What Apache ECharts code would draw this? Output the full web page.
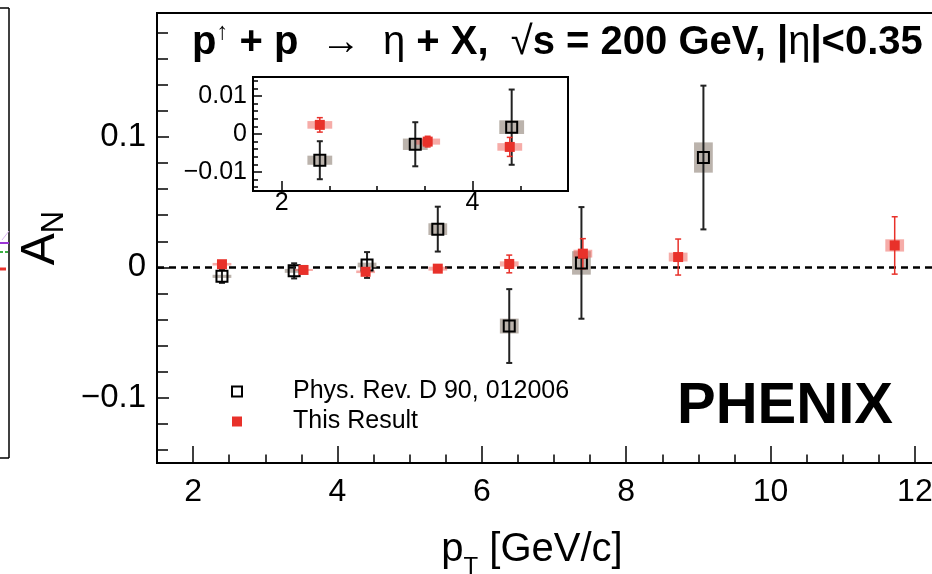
<!DOCTYPE html>
<html>
<head>
<meta charset="utf-8">
<script src="https://cdn.jsdelivr.net/npm/echarts@6/dist/echarts.min.js"></script>
<style>html,body{margin:0;padding:0;background:#fff;}#c{width:932px;height:574px;}</style>
</head>
<body>
<div id="c"></div>
<script>
// ---- data ----
const ptPrev   = [2.40, 3.40, 4.41, 5.39, 6.38, 7.38, 9.07];
const anPrev   = [-0.0069, -0.0027, 0.0018, 0.0293, -0.0450, 0.0034, 0.0842];
const statPrev = [0.0050, 0.0058, 0.0099, 0.0172, 0.0283, 0.0428, 0.0551];
const sysPrev  = [0.0012, 0.0015, 0.0018, 0.0045, 0.0057, 0.0090, 0.0116];

const ptNew   = [2.40, 3.53, 4.39, 5.39, 6.38, 7.40, 8.72, 11.72];
const anNew   = [0.0024, -0.0020, -0.0034, -0.0010, 0.0026, 0.0105, 0.0079, 0.0168];
const statNew = [0.0019, 0.0014, 0.0025, 0.0020, 0.0068, 0.0115, 0.0138, 0.0220];
const sysNew  = [0.0010, 0.0008, 0.0010, 0.0015, 0.0020, 0.0030, 0.0034, 0.0047];

const seriesNames = ['Phys. Rev. D 90, 012006', 'This Result'];

const xMajorTicks = [2, 4, 6, 8, 10, 12];
const yMajorTicks = [-0.1, 0, 0.1];
const insetXTicks = [2, 4];
const insetYTicks = [-0.01, 0, 0.01];

// ---- helpers ----
const FONT = "'Liberation Sans', Arial, Helvetica, sans-serif";
const RED = '#e8312a';
const RED_SYS = 'rgba(238,90,82,0.5)';
const GREY_SYS = '#bbb3ac';

const mainX = {min: 1.5, max: 12.5};
const mainY = {min: -0.15, max: 0.195};
const insX = {min: 1.7, max: 5.0};
const insY = {min: -0.015, max: 0.015};

function range(a, b, step, dec) { const r = []; for (let v = a; v <= b + step / 2; v += step) r.push(+v.toFixed(dec)); return r; }
const xMinorTicks = range(1.5, 12.5, 0.5, 2);
const yMinorTicks = range(-0.14, 0.18, 0.02, 3);
const insXMinor = range(2, 5, 0.5, 2);
const insYMinor = range(-0.014, 0.014, 0.002, 4);

function fmtNum(v) { if (Math.abs(v) < 1e-12) return '0'; const s = String(+v.toPrecision(6)); return s.replace('-', '\u2212'); }

function zip(xs, ys, es) { return xs.map((x, i) => [x, ys[i], es[i]]); }
const prevPts = zip(ptPrev, anPrev, statPrev);
const prevSys = zip(ptPrev, anPrev, sysPrev);
const newPts = zip(ptNew, anNew, statNew);
const newSys = zip(ptNew, anNew, sysNew);
const inIns = d => d[0] > insX.min && d[0] < insX.max;

function errRender(color, lw, cap) {
  return function (params, api) {
    const x = api.value(0), y = api.value(1), e = api.value(2);
    const t = api.coord([x, y + e]), b = api.coord([x, y - e]);
    const st = {stroke: color, lineWidth: lw};
    return {type: 'group', children: [
      {type: 'line', shape: {x1: t[0], y1: t[1], x2: b[0], y2: b[1]}, style: st},
      {type: 'line', shape: {x1: t[0] - cap, y1: t[1], x2: t[0] + cap, y2: t[1]}, style: st},
      {type: 'line', shape: {x1: b[0] - cap, y1: b[1], x2: b[0] + cap, y2: b[1]}, style: st}
    ]};
  };
}
function boxRender(color, hw) {
  return function (params, api) {
    const x = api.value(0), y = api.value(1), s = api.value(2);
    const p1 = api.coord([x - hw, y + s]), p2 = api.coord([x + hw, y - s]);
    return {type: 'rect', shape: {x: p1[0], y: p1[1], width: p2[0] - p1[0], height: Math.max(p2[1] - p1[1], 1)}, style: {fill: color}};
  };
}

function valAxis(grid, rng, ticks, len, showLabel, labelSize, margin, extra) {
  return Object.assign({
    type: 'value', gridIndex: grid, min: rng.min, max: rng.max,
    axisLine: {show: showLabel, onZero: false, lineStyle: {color: '#000', width: 2}},
    axisTick: {show: true, inside: true, length: len, customValues: ticks, lineStyle: {color: '#000', width: 1.5}},
    axisLabel: showLabel ? {show: true, customValues: ticks, formatter: fmtNum, fontSize: labelSize, color: '#000', fontFamily: FONT, margin: margin} : {show: false},
    splitLine: {show: false}
  }, extra || {});
}

function buildSeries(xi, yi, filter, big) {
  const f = filter ? (a => a.filter(inIns)) : (a => a);
  return [
    {type: 'custom', name: 'sysPrev', xAxisIndex: xi, yAxisIndex: yi, data: f(prevSys), renderItem: boxRender(GREY_SYS, 0.13), z: 1, silent: true},
    {type: 'custom', name: 'sysNew', xAxisIndex: xi, yAxisIndex: yi, data: f(newSys), renderItem: boxRender(RED_SYS, 0.13), z: 1, silent: true},
    {type: 'custom', name: 'errPrev', xAxisIndex: xi, yAxisIndex: yi, data: f(prevPts), renderItem: errRender('#222', 2, 3), z: 2, silent: true},
    {type: 'custom', name: 'errNew', xAxisIndex: xi, yAxisIndex: yi, data: f(newPts), renderItem: errRender(RED, 1.5, 3), z: 2, silent: true},
    {type: 'scatter', name: big ? seriesNames[0] : 'inPrev', xAxisIndex: xi, yAxisIndex: yi, data: f(prevPts).map(d => [d[0], d[1]]),
      symbol: 'rect', symbolSize: 11, itemStyle: {color: 'rgba(0,0,0,0)', borderColor: '#000', borderWidth: 2, opacity: 1}, z: 3, silent: true},
    {type: 'scatter', name: big ? seriesNames[1] : 'inNew', xAxisIndex: xi, yAxisIndex: yi, data: f(newPts).map(d => [d[0], d[1]]),
      symbol: 'rect', symbolSize: 10, itemStyle: {color: RED, opacity: 1}, z: 4, silent: true,
      markLine: {silent: true, symbol: 'none', label: {show: false}, lineStyle: {color: '#000', type: [7, 5], width: 2.5}, data: [{yAxis: 0}], z: 0}}
  ];
}

const chart = echarts.init(document.getElementById('c'), null, {renderer: 'canvas'});
const option = {
  animation: false,
  backgroundColor: '#fff',
  textStyle: {fontFamily: FONT},
  title: [
    {left: 192, top: 20, padding: 0,
      text: '{b|p}{u|\u2191}{b| + p  }{n|\u2192}{b|  }{n|\u03b7}{b| + X,  }{n|\u221a}{b|s = 200 GeV, |}{n|\u03b7}{b||<0.35}',
      textStyle: {rich: {
        b: {fontSize: 40, fontWeight: 'bold', color: '#000', fontFamily: FONT, lineHeight: 46},
        n: {fontSize: 40, fontWeight: 'normal', color: '#000', fontFamily: FONT, lineHeight: 46},
        u: {fontSize: 24, color: '#000', fontFamily: FONT, verticalAlign: 'top', lineHeight: 46}
      }}},
    {left: 677, top: 378, padding: 0, text: 'PHENIX', textStyle: {fontSize: 58, fontWeight: 'bold', color: '#000', fontFamily: FONT}}
  ],
  legend: {
    orient: 'vertical', left: 231, top: 379, padding: 0, itemGap: 5, itemWidth: 10, itemHeight: 10,
    data: [
      {name: seriesNames[0], icon: 'rect', itemStyle: {color: 'rgba(0,0,0,0)', borderColor: '#000', borderWidth: 2}},
      {name: seriesNames[1], icon: 'rect', itemStyle: {color: RED}}
    ],
    textStyle: {fontSize: 25, color: '#000', fontFamily: FONT, padding: [0, 0, 0, 46]},
    selectedMode: false
  },
  grid: [
    {left: 157, top: 13, right: -19, bottom: 111, outerBoundsMode: 'none', containLabel: false, show: true, borderColor: '#000', borderWidth: 2, backgroundColor: 'rgba(0,0,0,0)'},
    {left: 253, top: 77, right: 364, bottom: 383, outerBoundsMode: 'none', containLabel: false, show: true, borderColor: '#000', borderWidth: 2, backgroundColor: '#fff', z: 5}
  ],
  xAxis: [
    valAxis(0, mainX, xMajorTicks, 17, true, 32, 13, {
      name: '{p|p}{s|T}{g| [GeV/c]}', nameLocation: 'middle', nameGap: 58,
      nameTextStyle: {padding: [0, 44, 0, 0], rich: {
        p: {fontSize: 40, color: '#000', fontFamily: FONT, lineHeight: 58, verticalAlign: 'middle'},
        s: {fontSize: 24, color: '#000', fontFamily: FONT, lineHeight: 58, verticalAlign: 'bottom'},
        g: {fontSize: 40, color: '#000', fontFamily: FONT, lineHeight: 58, verticalAlign: 'middle'}
      }}
    }),
    valAxis(0, mainX, xMinorTicks, 8.5, false, 0, 0, {position: 'bottom'}),
    valAxis(1, insX, insetXTicks, 10, true, 25, 0, {z: 6}),
    valAxis(1, insX, insXMinor, 5, false, 0, 0, {position: 'bottom', z: 6})
  ],
  yAxis: [
    valAxis(0, mainY, yMajorTicks, 12, true, 33, 11, {
      name: '{a|A}{s|N}', nameLocation: 'middle', nameRotate: 90, nameGap: 86,
      nameTextStyle: {rich: {
        a: {fontSize: 48, color: '#000', fontFamily: FONT, lineHeight: 58, verticalAlign: 'middle'},
        s: {fontSize: 31, color: '#000', fontFamily: FONT, lineHeight: 58, verticalAlign: 'bottom'}
      }}
    }),
    valAxis(0, mainY, yMinorTicks, 11, false, 0, 0, {position: 'left'}),
    valAxis(1, insY, insetYTicks, 9, true, 25, 6, {z: 6}),
    valAxis(1, insY, insYMinor, 5, false, 0, 0, {position: 'left', z: 6})
  ],
  series: [].concat(buildSeries(0, 0, false, true), buildSeries(2, 2, true, false).map(s => Object.assign(s, {z: (s.z || 0) + 10}))),
  graphic: [
    {type: 'line', shape: {x1: 9, y1: 8, x2: 9, y2: 458}, style: {stroke: '#000', lineWidth: 1.5}},
    {type: 'line', shape: {x1: 0, y1: 8, x2: 9, y2: 8}, style: {stroke: '#000', lineWidth: 1.5}},
    {type: 'line', shape: {x1: 0, y1: 458, x2: 9, y2: 458}, style: {stroke: '#000', lineWidth: 1.5}},
    {type: 'line', shape: {x1: 0, y1: 243, x2: 9, y2: 243}, style: {stroke: '#9b35d6', lineWidth: 2}},
    {type: 'line', shape: {x1: 2, y1: 240, x2: 9, y2: 231}, style: {stroke: '#d9b3f0', lineWidth: 1}},
    {type: 'line', shape: {x1: 0, y1: 252, x2: 9, y2: 252}, style: {stroke: '#3cb043', lineWidth: 2, lineDash: [3, 2]}},
    {type: 'line', shape: {x1: 0, y1: 269, x2: 6, y2: 269}, style: {stroke: RED, lineWidth: 3}}
  ]
};
chart.setOption(option);
</script>
</body>
</html>
